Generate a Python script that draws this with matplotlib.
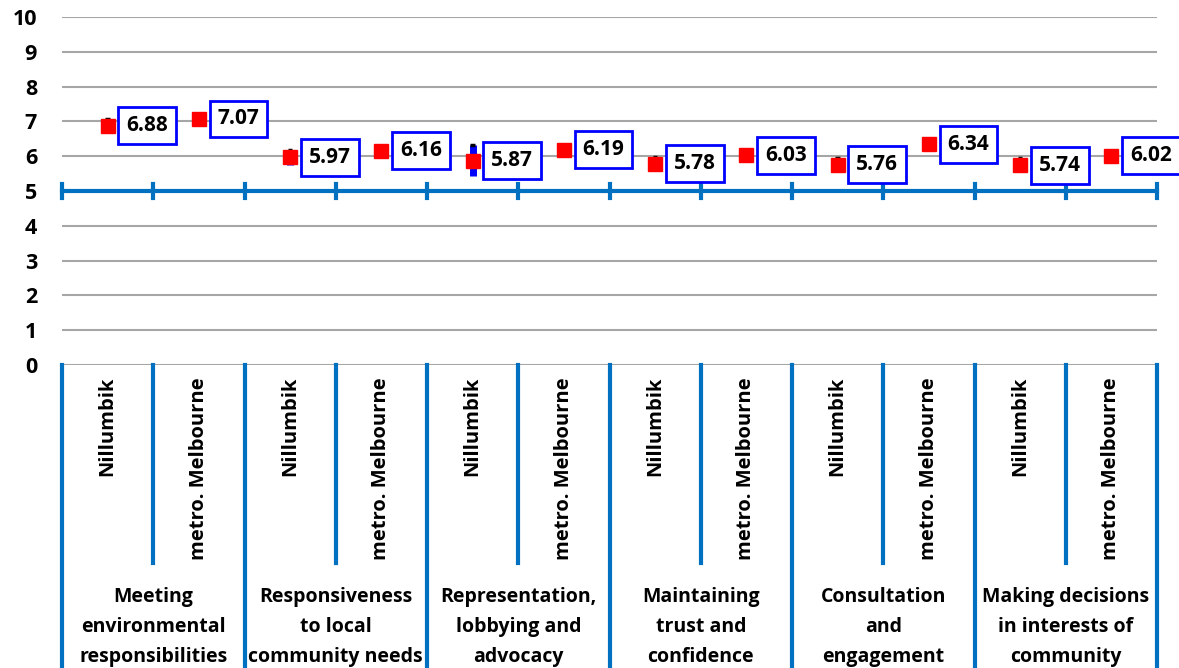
import numpy as np
import matplotlib
matplotlib.use("Agg")
import matplotlib.pyplot as plt
from matplotlib.transforms import blended_transform_factory

groups = ["Meeting\nenvironmental\nresponsibilities",
          "Responsiveness\nto local\ncommunity needs",
          "Representation,\nlobbying and\nadvocacy",
          "Maintaining\ntrust and\nconfidence",
          "Consultation\nand\nengagement",
          "Making decisions\nin interests of\ncommunity"]
series = ["Nillumbik", "metro. Melbourne"]
values = [6.88, 7.07, 5.97, 6.16, 5.87, 6.19, 5.78, 6.03, 5.76, 6.34, 5.74, 6.02]
errors = [0.18, 0.10, 0.22, 0.10, 0.45, 0.10, 0.20, 0.08, 0.20, 0.10, 0.20, 0.08]
yticks = list(range(0, 11))

plt.rcParams['font.family'] = ['Open Sans', 'DejaVu Sans']
W, H = 1179, 668
fig = plt.figure(figsize=(W / 100, H / 100), dpi=100)
L, R, T, B = 62, 1157, 17, 365
ax = fig.add_axes([L / W, 1 - B / H, (R - L) / W, (B - T) / H])

n = len(values)
x = np.arange(n)
ax.set_xlim(-0.5, n - 0.5)
ax.set_ylim(0, 10)
for s in ax.spines.values():
    s.set_visible(False)
ax.set_yticks(yticks)
ax.set_yticklabels([str(t) for t in yticks], fontsize=15.5, fontweight='bold')
ax.tick_params(axis='y', length=0, pad=18)
ax.set_xticks([])
for t in yticks:
    ax.axhline(t, color='#A6A6A6', lw=1.5, zorder=0)

axis_blue = '#0070C0'
# category axis at y=5
ax.plot([-0.5, n - 0.5], [5, 5], color=axis_blue, lw=3, zorder=2, clip_on=False)
bounds = np.arange(n + 1) - 0.5
for b in bounds:
    ax.plot([b, b], [4.8, 5.2], color=axis_blue, lw=3, zorder=2, clip_on=False)

# error bars and markers
for xi, v, e in zip(x, values, errors):
    ax.plot([xi, xi], [v - e, v + e], color='#0000FF', lw=5, zorder=3, solid_capstyle='butt')
    ax.plot([xi - 0.025, xi + 0.025], [v + e, v + e], color='black', lw=2.5, zorder=4,
            solid_capstyle='butt')
ax.plot(x, values, 's', color='#FF0000', markersize=10, zorder=5, mec='#FF0000')

for xi, v in zip(x, values):
    ax.annotate(f"{v:.2f}", (xi, v), xytext=(13.5, 0), textcoords='offset points',
                ha='left', va='center', fontsize=15, fontweight='bold', zorder=6,
                bbox=dict(boxstyle='square,pad=0.38', fc='white', ec='#0000FF', lw=2))

# multi-level category labels
trans = blended_transform_factory(ax.transData, ax.transAxes)
ph = B - T
def yf(py):
    return -(py - B) / ph

for i, b in enumerate(bounds):
    if i % 2 == 0:
        ax.plot([b, b], [0, yf(H + 5)], color=axis_blue, lw=3, transform=trans, clip_on=False)
    else:
        ax.plot([b, b], [0, yf(563)], color=axis_blue, lw=3, transform=trans, clip_on=False)

for xi in x:
    ax.text(xi, yf(377), series[xi % 2], rotation=90, ha='center', va='top',
            fontsize=14.5, fontweight='bold', transform=trans)

for g, name in enumerate(groups):
    ax.text(2 * g + 0.5, yf(627), name, ha='center', va='center', fontsize=14,
            fontweight='bold', linespacing=1.64, transform=trans)

fig.savefig("out.png", dpi=100)
